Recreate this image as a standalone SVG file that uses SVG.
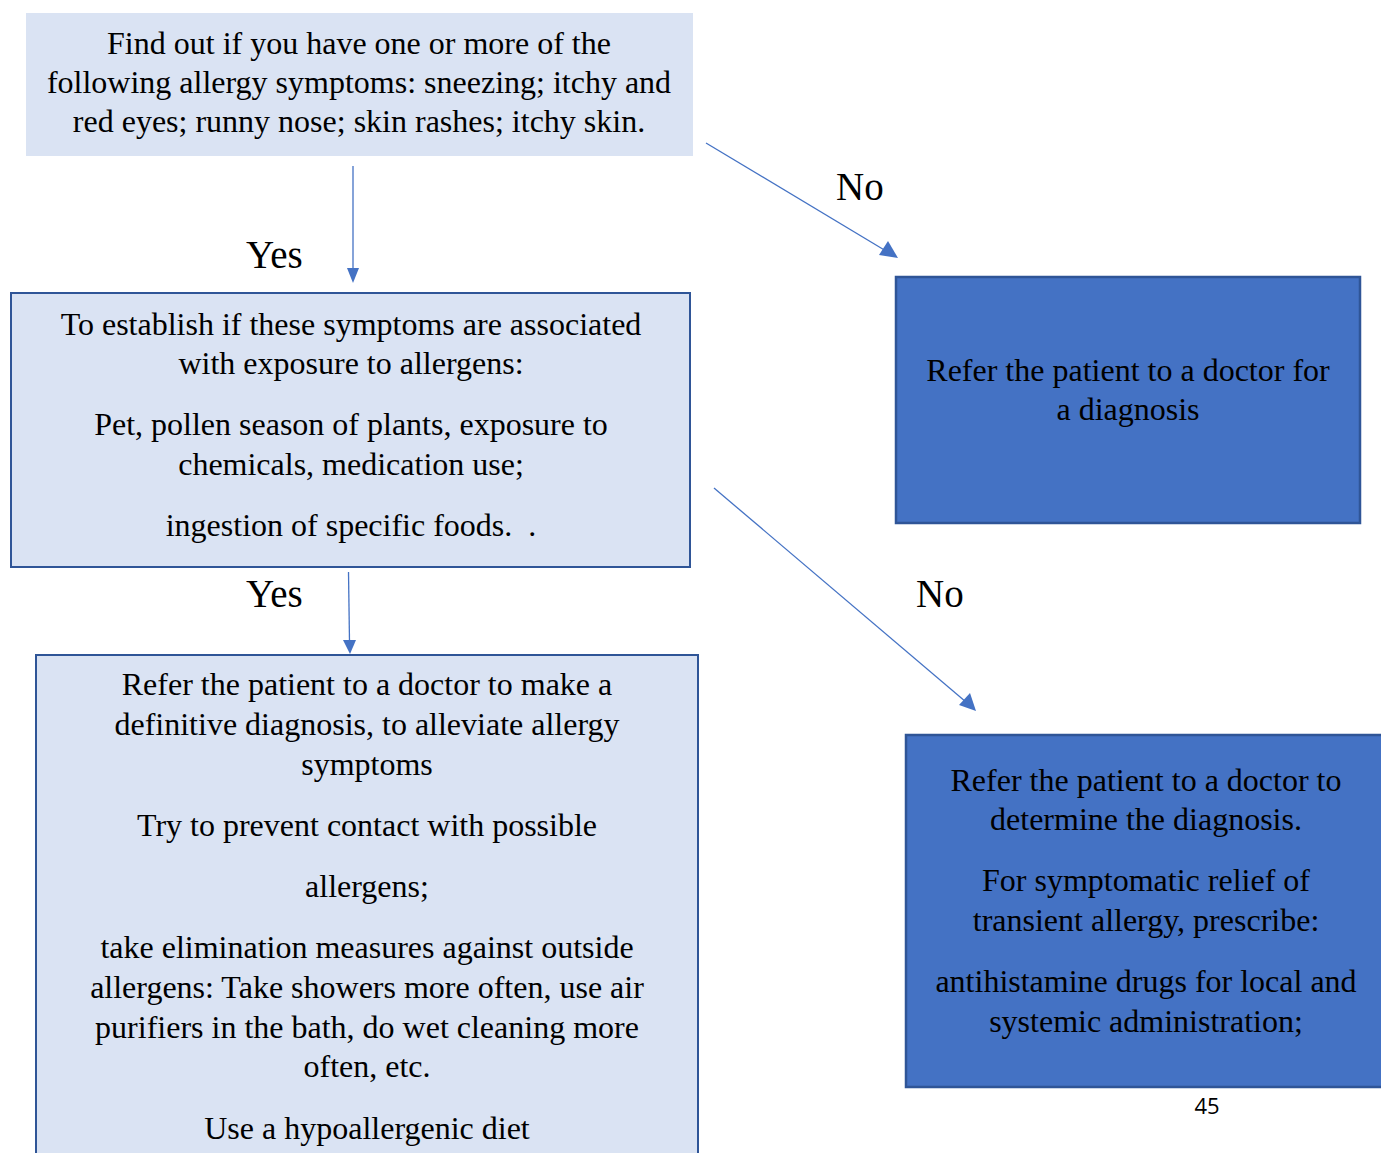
<svg xmlns="http://www.w3.org/2000/svg" width="1381" height="1153" viewBox="0 0 1381 1153">
<defs>
<style>
.t{font-family:"Liberation Serif","Times New Roman",serif;font-size:32px;fill:#000;text-anchor:middle}
.lbl{font-family:"Liberation Serif","Times New Roman",serif;font-size:39px;fill:#000}
.light{fill:#DAE3F3;stroke:#2F5597;stroke-width:2}
.dark{fill:#4472C4;stroke:#2F5597;stroke-width:2.5}
.c{stroke:#4472C4;stroke-width:1.3;fill:none}
.ah{fill:#4472C4}
</style>
</defs>
<rect width="1381" height="1153" fill="#fff"/>
<g id="connectors">
<line class="c" x1="353" y1="166" x2="353" y2="270"/>
<path class="ah" d="M347,268 L359,268 L353,283 z"/>
<line class="c" x1="706" y1="143" x2="886" y2="251"/>
<path class="ah" d="M898,258 L879,255 L888,241 z"/>
<line class="c" x1="348.5" y1="572" x2="349.5" y2="642"/>
<path class="ah" d="M343,640 L356,640 L350,654 z"/>
<line class="c" x1="714" y1="488" x2="966" y2="702"/>
<path class="ah" d="M976,711 L959,705 L970,693 z"/>
<text class="lbl" x="246" y="268">Yes</text>
<text class="lbl" x="836" y="200">No</text>
<text class="lbl" x="246" y="607">Yes</text>
<text class="lbl" x="916" y="607">No</text>
</g>
<g id="node-symptoms">
<rect x="26" y="13" width="667" height="143" fill="#DAE3F3"/>
<text class="t" x="359" y="54">Find out if you have one or more of the</text>
<text class="t" x="359" y="93">following allergy symptoms: sneezing; itchy and</text>
<text class="t" x="359" y="132">red eyes; runny nose; skin rashes; itchy skin.</text>
</g>
<g id="node-exposure">
<rect class="light" x="11" y="293" width="679" height="274"/>
<text class="t" x="351" y="335">To establish if these symptoms are associated</text>
<text class="t" x="351" y="374">with exposure to allergens:</text>
<text class="t" x="351" y="435">Pet, pollen season of plants, exposure to</text>
<text class="t" x="351" y="475">chemicals, medication use;</text>
<text class="t" x="351" y="536" style="white-space:pre">ingestion of specific foods.  .</text>
</g>
<g id="node-refer-definitive">
<rect class="light" x="36" y="655" width="662" height="510"/>
<text class="t" x="367" y="695">Refer the patient to a doctor to make a</text>
<text class="t" x="367" y="735">definitive diagnosis, to alleviate allergy</text>
<text class="t" x="367" y="775">symptoms</text>
<text class="t" x="367" y="836">Try to prevent contact with possible</text>
<text class="t" x="367" y="897">allergens;</text>
<text class="t" x="367" y="958">take elimination measures against outside</text>
<text class="t" x="367" y="998">allergens: Take showers more often, use air</text>
<text class="t" x="367" y="1038">purifiers in the bath, do wet cleaning more</text>
<text class="t" x="367" y="1077">often, etc.</text>
<text class="t" x="367" y="1139">Use a hypoallergenic diet</text>
</g>
<g id="node-refer-diagnosis">
<rect class="dark" x="896" y="277" width="464" height="246"/>
<text class="t" x="1128" y="381">Refer the patient to a doctor for</text>
<text class="t" x="1128" y="420">a diagnosis</text>
</g>
<g id="node-refer-determine">
<rect class="dark" x="906" y="735" width="490" height="352"/>
<text class="t" x="1146" y="791">Refer the patient to a doctor to</text>
<text class="t" x="1146" y="830">determine the diagnosis.</text>
<text class="t" x="1146" y="891">For symptomatic relief of</text>
<text class="t" x="1146" y="931">transient allergy, prescribe:</text>
<text class="t" x="1146" y="992">antihistamine drugs for local and</text>
<text class="t" x="1146" y="1032">systemic administration;</text>
</g>
<text x="1207" y="1114" font-family="'Open Sans','Liberation Sans',sans-serif" font-size="22" text-anchor="middle" fill="#000">45</text>
</svg>
